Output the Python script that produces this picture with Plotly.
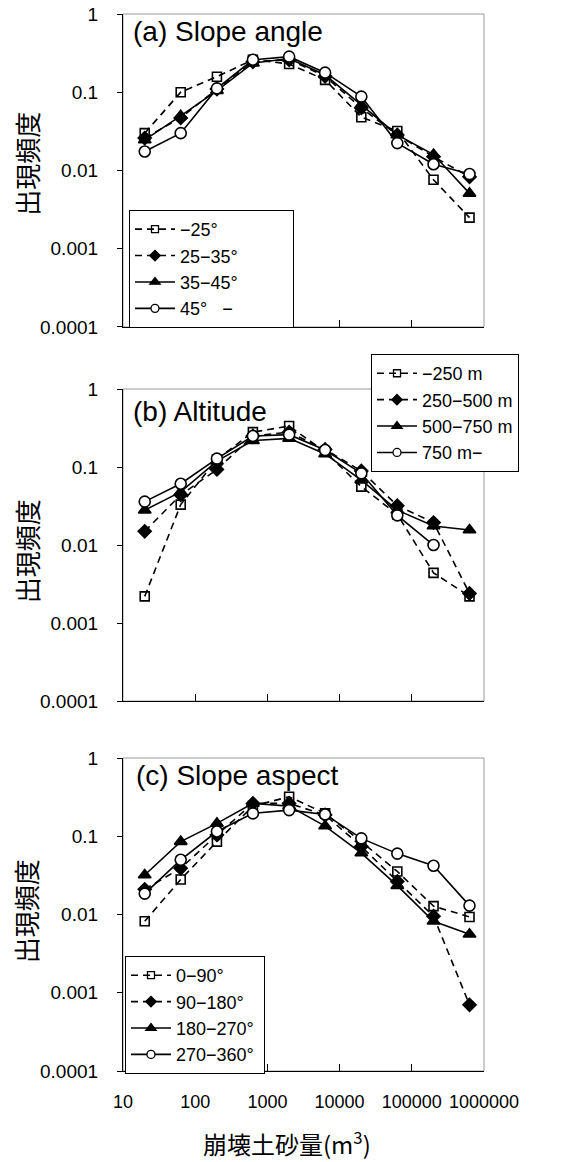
import plotly.graph_objects as go

# landslide volume class midpoints (m3)
volume = [20, 63, 200, 630, 2000, 6300, 20000, 63000, 200000, 630000]

# (a) slope angle
angle_names = ["\u221225°", "25\u221235°", "35\u221245°", "45°\u00a0\u00a0\u00a0\u2212"]
angle_lt25 = [0.030, 0.100, 0.158, 0.260, 0.230, 0.144, 0.048, 0.032, 0.0076, 0.0025]
angle_25_35 = [0.026, 0.047, 0.110, 0.245, 0.260, 0.160, 0.063, 0.0285, 0.015, 0.0083]
angle_35_45 = [0.0246, 0.050, 0.105, 0.235, 0.270, 0.166, 0.069, 0.0285, 0.016, 0.0051]
angle_gt45 = [0.0175, 0.030, 0.112, 0.260, 0.285, 0.178, 0.088, 0.0224, 0.012, 0.009]

# (b) altitude
alt_names = ["\u2212250 m", "250\u2212500 m", "500\u2212750 m", "750 m\u2212"]
alt_lt250 = [0.0022, 0.033, 0.125, 0.280, 0.335, 0.157, 0.056, 0.0247, 0.0044, 0.0022]
alt_250_500 = [0.015, 0.044, 0.093, 0.250, 0.280, 0.168, 0.089, 0.032, 0.0194, 0.0024]
alt_500_750 = [0.028, 0.048, 0.119, 0.218, 0.233, 0.147, 0.068, 0.028, 0.0175, 0.0156]
alt_gt750 = [0.036, 0.061, 0.128, 0.250, 0.260, 0.165, 0.083, 0.024, 0.010, None]

# (c) slope aspect
asp_names = ["0\u221290°", "90\u2212180°", "180\u2212270°", "270\u2212360°"]
asp_0_90 = [0.0082, 0.028, 0.0855, 0.243, 0.320, 0.196, 0.0855, 0.0355, 0.0128, 0.0093]
asp_90_180 = [0.021, 0.039, 0.104, 0.263, 0.263, 0.187, 0.074, 0.0265, 0.0095, 0.0007]
asp_180_270 = [0.032, 0.0855, 0.146, 0.263, 0.243, 0.135, 0.061, 0.0234, 0.0082, 0.0056]
asp_270_360 = [0.0185, 0.050, 0.115, 0.196, 0.216, 0.190, 0.094, 0.060, 0.042, 0.013]

panel_labels = ["(a) Slope angle", "(b) Altitude", "(c) Slope aspect"]
y_ticks = [0.0001, 0.001, 0.01, 0.1, 1]
y_ticktext = ["0.0001", "0.001", "0.01", "0.1", "1"]
x_ticks = [10, 100, 1000, 10000, 100000, 1000000]
x_ticktext = ["10", "100", "1000", "10000", "100000", "1000000"]

LATIN = "Liberation Sans, Arial, sans-serif"
CJK = "Noto Sans CJK JP"

styles = [
    dict(symbol="square-open", size=9, lsize=7, dash="7px,5px", mcolor="black"),
    dict(symbol="diamond", size=10, lsize=8, dash="7px,5px", mcolor="black"),
    dict(symbol="triangle-up", size=11, lsize=9, dash="solid", mcolor="black"),
    dict(symbol="circle", size=11, lsize=8, dash="solid", mcolor="white"),
]

panels = [
    (angle_names, [angle_lt25, angle_25_35, angle_35_45, angle_gt45]),
    (alt_names, [alt_lt250, alt_250_500, alt_500_750, alt_gt750]),
    (asp_names, [asp_0_90, asp_90_180, asp_180_270, asp_270_360]),
]
# extra room at the right of each legend box
legend_pad = ["\u00a0" * 10, "", "\u00a0"]

fig = go.Figure()

for p, (names, series) in enumerate(panels):
    yax = "y" if p == 0 else f"y{p + 1}"
    xax = "x" if p == 0 else f"x{p + 1}"
    leg = "legend" if p == 0 else f"legend{p + 1}"
    for name, vals, st in zip(names, series, styles):
        fig.add_trace(
            go.Scatter(
                x=volume,
                y=vals,
                name=name,
                mode="lines+markers",
                xaxis=xax,
                yaxis=yax,
                showlegend=False,
                line=dict(color="black", width=1.6, dash=st["dash"]),
                marker=dict(
                    symbol=st["symbol"],
                    size=st["size"],
                    color=st["mcolor"],
                    line=dict(color="black", width=1.6),
                ),
            )
        )
        # legend entry with smaller marker
        fig.add_trace(
            go.Scatter(
                x=[None],
                y=[None],
                name=name + legend_pad[p],
                mode="lines+markers",
                xaxis=xax,
                yaxis=yax,
                legend=leg,
                line=dict(color="black", width=1.6, dash=st["dash"]),
                marker=dict(
                    symbol=st["symbol"],
                    size=st["lsize"],
                    color=st["mcolor"],
                    line=dict(color="black", width=1.3),
                ),
            )
        )

# panel domains (paper fractions)
domains = [[0.7039, 1.0], [0.3500, 0.6452], [0.0, 0.2961]]

layout_axes = {}
for p in range(3):
    sx = "" if p == 0 else str(p + 1)
    layout_axes[f"xaxis{sx}"] = dict(
        type="log",
        range=[1, 6],
        domain=[0, 1],
        anchor=f"y{sx}",
        tickvals=x_ticks,
        ticktext=x_ticktext,
        showticklabels=(p == 2),
        ticks="inside",
        ticklen=7,
        tickcolor="black",
        showline=True,
        linecolor="black",
        linewidth=1.2,
        showgrid=False,
        zeroline=False,
        automargin=False,
        ticklabelstandoff=14,
        ticklabeloverflow="allow",
        tickfont=dict(family=LATIN, size=18, color="black"),
    )
    layout_axes[f"yaxis{sx}"] = dict(
        type="log",
        range=[-4, 0],
        domain=domains[p],
        anchor=f"x{sx}",
        tickvals=y_ticks,
        ticktext=y_ticktext,
        ticks="outside",
        ticklen=5,
        tickcolor="black",
        showline=True,
        linecolor="black",
        linewidth=1.2,
        showgrid=False,
        zeroline=False,
        automargin=False,
        ticklabelstandoff=15,
        ticklabeloverflow="allow",
        tickfont=dict(family=LATIN, size=19, color="black"),
    )

fig.update_layout(**layout_axes)

# gray frame on top and right of each panel
for p in range(3):
    sx = "" if p == 0 else str(p + 1)
    fig.add_shape(
        type="rect",
        xref=f"x{sx} domain",
        yref=f"y{sx} domain",
        x0=0, x1=1, y0=0, y1=1,
        line=dict(color="#9a9a9a", width=1),
        layer="below",
    )

legend_style = dict(
    bgcolor="white",
    bordercolor="black",
    borderwidth=1,
    font=dict(family=LATIN, size=18, color="black"),
    xanchor="left",
    yanchor="top",
    tracegroupgap=0,
    itemwidth=40,
)

# the page body adds an 8px offset, so the figure is drawn 8px smaller
fig.update_layout(
    width=565,
    height=1154,
    margin=dict(l=115, r=89, t=6, b=91, autoexpand=False),
    plot_bgcolor="white",
    paper_bgcolor="white",
    legend=dict(x=0.0166, y=0.8146, **legend_style),
    legend2=dict(x=0.687, y=0.6783, **legend_style),
    legend3=dict(x=0.0055, y=0.1088, **legend_style),
)

# panel labels
label_pos = [(0.022, 0.983), (0.022, 0.6235), (0.03, 0.280)]
for text, (lx, ly) in zip(panel_labels, label_pos):
    fig.add_annotation(
        text=text, x=lx, y=ly, xref="paper", yref="paper",
        xanchor="left", yanchor="middle", showarrow=False,
        font=dict(family=LATIN, size=28, color="black"),
    )

# y-axis titles
for ty in [0.8586, 0.4919, 0.1514]:
    fig.add_annotation(
        text="出現頻度", x=-0.268, y=ty, xref="paper", yref="paper",
        xanchor="center", yanchor="middle", textangle=-90, showarrow=False,
        font=dict(family=CJK, size=26, color="black"),
    )

# x-axis title
fig.add_annotation(
    text="崩壊土砂量(m<sup>3</sup>)", x=0.454, y=-0.068, xref="paper", yref="paper",
    xanchor="center", yanchor="middle", showarrow=False,
    font=dict(family=CJK, size=24, color="black"),
)

fig.write_html("out.html")
